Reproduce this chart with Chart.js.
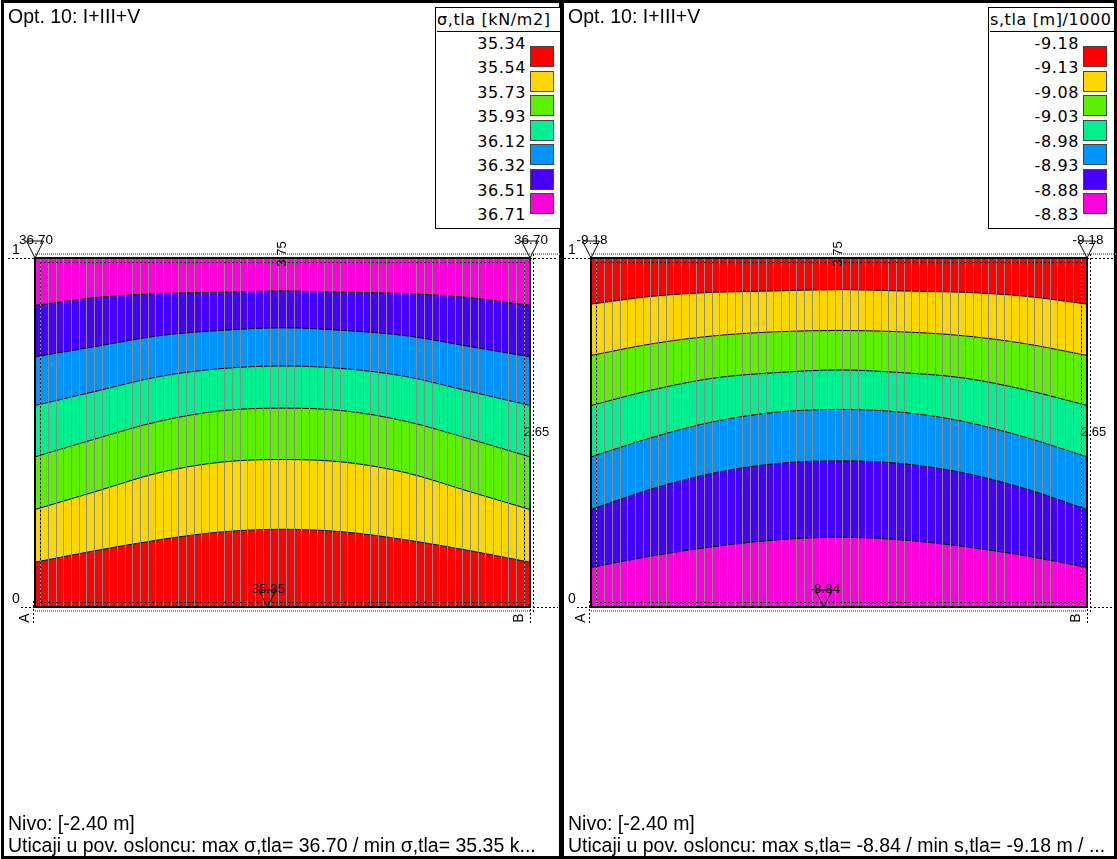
<!DOCTYPE html>
<html>
<head>
<meta charset="utf-8">
<script src="https://cdn.jsdelivr.net/npm/chart.js@4/dist/chart.umd.min.js"></script>
<style>
  html, body { margin: 0; padding: 0; background: #fff; }
  body { width: 1117px; height: 859px; position: relative; overflow: hidden;
         font-family: "Liberation Sans", Arial, sans-serif; color: #000; }
  .panel { position: absolute; top: 0; height: 853px; border: 3px solid #000; }
  #panelL { left: 1px; width: 555px; }
  #panelR { left: 561px; width: 550px; }
  canvas { position: absolute; top: 0; z-index: 1; }
  #chartL { left: 0; }
  #chartR { left: 562px; }
  .txt { position: absolute; font-size: 19.5px; line-height: 22px; white-space: nowrap; z-index: 2; }
  .legend { position: absolute; top: 7px; height: 220px; border: 1px solid #000; border-right: none;
            background: #fff; z-index: 2; overflow: hidden;
            font-family: "DejaVu Sans", Verdana, sans-serif; font-size: 16px; letter-spacing: 0.6px; }
  .legend .ttl { position: absolute; left: 1px; top: 1px; line-height: 22px; white-space: nowrap;
                 border-bottom: 1px solid #000; width: 200px; }
  .legend .val { position: absolute; width: 80px; text-align: right; line-height: 20px; }
  .legend .sw { position: absolute; width: 22px; height: 19px; border: 1px solid #444; }
</style>
</head>
<body>
<div class="panel" id="panelL"></div>
<div class="panel" id="panelR"></div>
<canvas id="chartL" width="562" height="859"></canvas>
<canvas id="chartR" width="555" height="859"></canvas>

<div class="txt" style="left:8px; top:5px;">Opt. 10: I+III+V</div>
<div class="txt" style="left:568px; top:5px;">Opt. 10: I+III+V</div>
<div class="txt" style="left:8px; top:812px;">Nivo: [-2.40 m]</div>
<div class="txt" style="left:8px; top:834px;">Uticaji u pov. osloncu: max σ,tla= 36.70 / min σ,tla= 35.35 k...</div>
<div class="txt" style="left:568px; top:812px;">Nivo: [-2.40 m]</div>
<div class="txt" style="left:568px; top:834px;">Uticaji u pov. osloncu: max s,tla= -8.84 / min s,tla= -9.18 m / ...</div>

<div class="legend" id="legendL" style="left:435px; width:124px;"></div>
<div class="legend" id="legendR" style="left:988px; width:125px;"></div>

<script>
// Plate dimensions [m]
const plateWidth = 3.75;
const plateHeight = 2.65;

// Sample positions along the plate width [m] for the contour lines
const contourX = [0, 0.47, 0.94, 1.41, 1.875, 2.34, 2.81, 3.28, 3.75];

// Soil pressure contours (height on plate [m]), bottom to top
const sigma3554 = [0.34, 0.43, 0.51, 0.57, 0.59, 0.57, 0.51, 0.43, 0.34];
const sigma3573 = [0.74, 0.88, 1.02, 1.10, 1.12, 1.10, 1.02, 0.88, 0.74];
const sigma3593 = [1.14, 1.28, 1.41, 1.49, 1.51, 1.49, 1.41, 1.28, 1.14];
const sigma3612 = [1.53, 1.64, 1.75, 1.81, 1.83, 1.81, 1.75, 1.64, 1.53];
const sigma3632 = [1.90, 1.98, 2.06, 2.10, 2.12, 2.10, 2.06, 1.98, 1.90];
const sigma3651 = [2.29, 2.35, 2.38, 2.39, 2.40, 2.39, 2.38, 2.35, 2.29];

// Settlement contours (height on plate [m]), bottom to top
const settle888 = [0.30, 0.39, 0.46, 0.51, 0.53, 0.51, 0.46, 0.39, 0.30];
const settle893 = [0.74, 0.90, 1.02, 1.09, 1.11, 1.09, 1.02, 0.90, 0.74];
const settle898 = [1.14, 1.29, 1.41, 1.48, 1.50, 1.48, 1.41, 1.29, 1.14];
const settle903 = [1.53, 1.65, 1.74, 1.78, 1.80, 1.78, 1.74, 1.65, 1.53];
const settle908 = [1.91, 2.00, 2.06, 2.09, 2.10, 2.09, 2.06, 2.00, 1.91];
const settle913 = [2.30, 2.36, 2.39, 2.40, 2.41, 2.40, 2.39, 2.36, 2.30];

// Legend scales
const sigmaLevels = ['35.34', '35.54', '35.73', '35.93', '36.12', '36.32', '36.51', '36.71'];
const settleLevels = ['-9.18', '-9.13', '-9.08', '-9.03', '-8.98', '-8.93', '-8.88', '-8.83'];
const levelColors = ['#FF0000', '#FFD700', '#5CF000', '#00F090', '#0094FF', '#4600FF', '#FF00DC'];

// Extreme values on the plate edge
const sigmaMarks = [
  { x: 0, y: plateHeight, label: '36.70' },
  { x: 3.75, y: plateHeight, label: '36.70' },
  { x: 1.76, y: 0, label: '35.35' }
];
const settleMarks = [
  { x: 0, y: plateHeight, label: '-9.18' },
  { x: 3.75, y: plateHeight, label: '-9.18' },
  { x: 1.76, y: 0, label: '-8.84' }
];

// Finite element mesh columns
const meshColumns = 64;
const meshInset = 0.045;
const meshX = [];
for (let i = 0; i < meshColumns; i++) {
  meshX.push(meshInset + i * (plateWidth - 2 * meshInset) / (meshColumns - 1));
}

function buildLegend(id, title, levels, colors) {
  const el = document.getElementById(id);
  const t = document.createElement('div');
  t.className = 'ttl';
  t.textContent = title;
  el.appendChild(t);
  levels.forEach((v, i) => {
    const d = document.createElement('div');
    d.className = 'val';
    d.style.left = '10px';
    d.style.top = (26 + 24.45 * i) + 'px';
    d.textContent = v;
    el.appendChild(d);
  });
  colors.forEach((c, i) => {
    const s = document.createElement('div');
    s.className = 'sw';
    s.style.left = '94px';
    s.style.top = (38 + 24.5 * i) + 'px';
    s.style.background = c;
    el.appendChild(s);
  });
}

function dotted(ctx, x1, y1, x2, y2, color, width, dash) {
  ctx.save();
  ctx.strokeStyle = color;
  ctx.lineWidth = width;
  ctx.setLineDash(dash);
  ctx.beginPath();
  ctx.moveTo(x1, y1);
  ctx.lineTo(x2, y2);
  ctx.stroke();
  ctx.restore();
}

function text(ctx, s, x, y, align, baseline, rot) {
  ctx.save();
  ctx.translate(x, y);
  if (rot) ctx.rotate(rot);
  ctx.textAlign = align;
  ctx.textBaseline = baseline;
  ctx.fillText(s, 0, 0);
  ctx.restore();
}

const plateDecor = {
  id: 'plateDecor',
  afterDraw(chart, args, opts) {
    const { ctx, chartArea: a, scales: { x, y } } = chart;
    const L = a.left, R = a.right, T = a.top, B = a.bottom;
    const cx = x.getPixelForValue(plateWidth / 2);
    const cy = y.getPixelForValue(plateHeight / 2);
    ctx.save();
    // inner dotted outline of the slab
    const blk = '#000';
    dotted(ctx, L + 5, T + 4.5, R - 5, T + 4.5, blk, 1, [2, 2]);
    dotted(ctx, L + 5, B - 4.5, R - 5, B - 4.5, blk, 1, [2, 2]);
    dotted(ctx, L + 5.5, T + 4, L + 5.5, B - 4, blk, 1, [2, 2]);
    dotted(ctx, R - 5.5, T + 4, R - 5.5, B - 4, blk, 1, [2, 2]);
    // dimension lines
    dotted(ctx, L, T - 4, R + 30, T - 4, '#8c8c8c', 2, [1, 1]);
    dotted(ctx, L, B + 4, R, B + 4, '#8c8c8c', 2, [1, 1]);
    dotted(ctx, R + 3.5, T - 4, R + 3.5, B + 6, blk, 1, [2, 2]);
    dotted(ctx, L - 27, T + 0.5, L, T + 0.5, blk, 1, [2, 2]);
    dotted(ctx, R, T + 0.5, R + 28, T + 0.5, blk, 1, [2, 2]);
    dotted(ctx, L - 14, B + 0.5, L, B + 0.5, blk, 1, [2, 2]);
    dotted(ctx, R + 3, B + 0.5, R + 28, B + 0.5, blk, 1, [2, 2]);
    dotted(ctx, L - 1.5, B - 6, L - 1.5, B + 18, blk, 1, [2, 2]);
    dotted(ctx, R + 0.5, B - 6, R + 0.5, B + 18, blk, 1, [2, 2]);
    // plate frame
    ctx.strokeStyle = '#000';
    ctx.lineWidth = 2;
    ctx.strokeRect(L, T, R - L, B - T);
    // axis and dimension labels
    ctx.fillStyle = '#000';
    ctx.font = '14px "Liberation Sans", Arial, sans-serif';
    text(ctx, '1', L - 23, T - 4, 'left', 'alphabetic');
    text(ctx, '0', L - 23, B - 4, 'left', 'alphabetic');
    text(ctx, 'A', L - 3, B + 11, 'center', 'bottom', -Math.PI / 2);
    text(ctx, 'B', R - 4, B + 11, 'center', 'bottom', -Math.PI / 2);
    ctx.font = '13px "Liberation Sans", Arial, sans-serif';
    text(ctx, '3.75', cx + 6, T - 4, 'center', 'bottom', -Math.PI / 2);
    text(ctx, '2.65', R - 6, cy, 'left', 'middle');
    // extreme value markers
    ctx.lineWidth = 1;
    (opts.marks || []).forEach(m => {
      const px = x.getPixelForValue(m.x);
      const py = y.getPixelForValue(m.y);
      ctx.beginPath();
      ctx.moveTo(px, py);
      ctx.lineTo(px - 8.5, py - 17);
      ctx.lineTo(px + 8.5, py - 17);
      ctx.closePath();
      ctx.stroke();
      ctx.font = '13.5px "Liberation Sans", Arial, sans-serif';
      text(ctx, m.label, px + 1, py - 14, 'center', 'alphabetic');
    });
    ctx.restore();
  }
};

function makePanel(canvasId, contours, bandColors, marks, pad) {
  const datasets = [];
  datasets.push({ data: contourX.map(v => ({ x: v, y: 0 })), borderWidth: 0, pointRadius: 0, fill: false });
  contours.forEach((c, i) => {
    datasets.push({
      data: contourX.map((v, j) => ({ x: v, y: c[j] })),
      borderColor: '#000', borderWidth: 1, backgroundColor: bandColors[i],
      fill: '-1', pointRadius: 0, cubicInterpolationMode: 'monotone'
    });
  });
  datasets.push({
    data: contourX.map(v => ({ x: v, y: plateHeight })),
    borderWidth: 0, pointRadius: 0, backgroundColor: bandColors[bandColors.length - 1], fill: '-1'
  });
  return new Chart(document.getElementById(canvasId), {
    type: 'line',
    data: { datasets },
    options: {
      responsive: false,
      animation: false,
      events: [],
      layout: { padding: pad },
      plugins: { legend: { display: false }, tooltip: { enabled: false }, plateDecor: { marks } },
      scales: {
        x: {
          type: 'linear', min: 0, max: plateWidth,
          ticks: { display: false },
          border: { display: false },
          grid: { z: 1, color: '#8a8a8a', lineWidth: 1, drawTicks: false },
          afterBuildTicks: s => { s.ticks = meshX.map(v => ({ value: v })); },
          afterFit: s => { s.height = 0; }
        },
        y: { type: 'linear', min: 0, max: plateHeight, display: false }
      }
    },
    plugins: [plateDecor]
  });
}

makePanel('chartL',
  [sigma3554, sigma3573, sigma3593, sigma3612, sigma3632, sigma3651],
  levelColors, sigmaMarks,
  { left: 35, top: 258, right: 32, bottom: 252 });

makePanel('chartR',
  [settle888, settle893, settle898, settle903, settle908, settle913],
  levelColors.slice().reverse(), settleMarks,
  { left: 29, top: 258, right: 30, bottom: 252 });

buildLegend('legendL', 'σ,tla [kN/m2]', sigmaLevels, levelColors);
buildLegend('legendR', 's,tla [m]/1000', settleLevels, levelColors);
</script>
</body>
</html>
